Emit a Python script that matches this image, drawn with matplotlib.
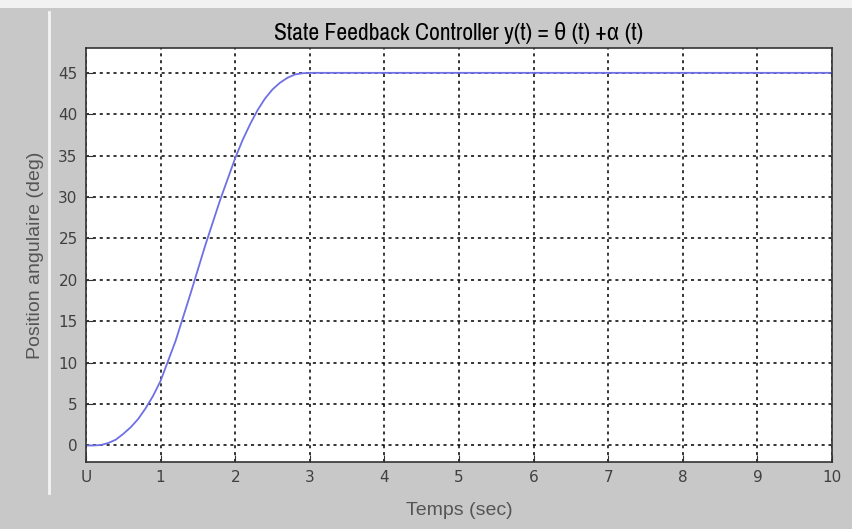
import matplotlib
matplotlib.use("Agg")
import matplotlib.pyplot as plt
from matplotlib.lines import Line2D
from matplotlib import font_manager

# step response of the state feedback loop (deg)
t = [0.0, 0.1, 0.2, 0.3, 0.4, 0.5, 0.6, 0.7, 0.8, 0.9, 1.0, 1.2, 1.4, 1.6,
     1.8, 2.0, 2.1, 2.2, 2.3, 2.4, 2.5, 2.6, 2.7, 2.8, 2.9, 3.0, 10.0]
y = [0.0, 0.0, 0.05, 0.3, 0.7, 1.4, 2.2, 3.2, 4.5, 6.0, 7.8, 12.6, 18.3,
     24.2, 29.7, 34.7, 36.9, 38.8, 40.5, 41.9, 43.0, 43.8, 44.4, 44.8,
     44.95, 45.0, 45.0]

xticks = list(range(0, 11))
xticklabels = ["U"] + [str(v) for v in range(1, 11)]
yticks = list(range(0, 50, 5))

# narrow face for the title if one is installed
names = sorted({f.name for f in font_manager.fontManager.ttflist})
narrow = [n for n in names if "Narrow" in n or "Condensed" in n]
title_family = narrow + ["DejaVu Sans"]

W, H = 852, 529
fig = plt.figure(figsize=(W / 100, H / 100), dpi=100)
fig.patch.set_facecolor("#c8c8c8")

# window frame details
fig.add_artist(plt.Rectangle((0, 1 - 8 / H), 1, 8 / H, transform=fig.transFigure,
                             facecolor="#f2f2f2", edgecolor="none"))
fig.add_artist(Line2D([49 / W, 49 / W], [1 - 12 / H, 1 - 493 / H],
                      transform=fig.transFigure, color="#f4f4f4", lw=2))

ax = fig.add_axes([86 / W, 1 - 462 / H, (832 - 86) / W, (462 - 48) / H])
ax.set_facecolor("white")
ax.plot(t, y, color="#6f6fe6", lw=1.3)

ax.set_xlim(0, 10)
ax.set_ylim(-2, 48)
ax.set_xticks(xticks)
ax.set_xticklabels(xticklabels)
ax.set_yticks(yticks)
ax.grid(True, color="black", linestyle=(0, (2, 2.5)), lw=1.1)
ax.tick_params(direction="in", length=5, labelsize=11, colors="#333333",
               labelcolor="#404040", top=False, right=False, pad=6)
for s in ax.spines.values():
    s.set_color("#333333")
    s.set_linewidth(1.2)

ax.set_title("State Feedback Controller y(t) = \u03b8 (t) +\u03b1 (t)",
             family=title_family, fontstretch="condensed", fontweight="normal",
             fontsize=17, color="black", pad=6)
ax.set_xlabel("Temps (sec)", fontsize=14, color="#555555",
              family=["Liberation Sans", "DejaVu Sans"], labelpad=12)
ax.set_ylabel("Position angulaire (deg)", fontsize=14, color="#555555",
              family=["Liberation Sans", "DejaVu Sans"], labelpad=10)

fig.savefig("out.png", dpi=100, facecolor=fig.get_facecolor())
